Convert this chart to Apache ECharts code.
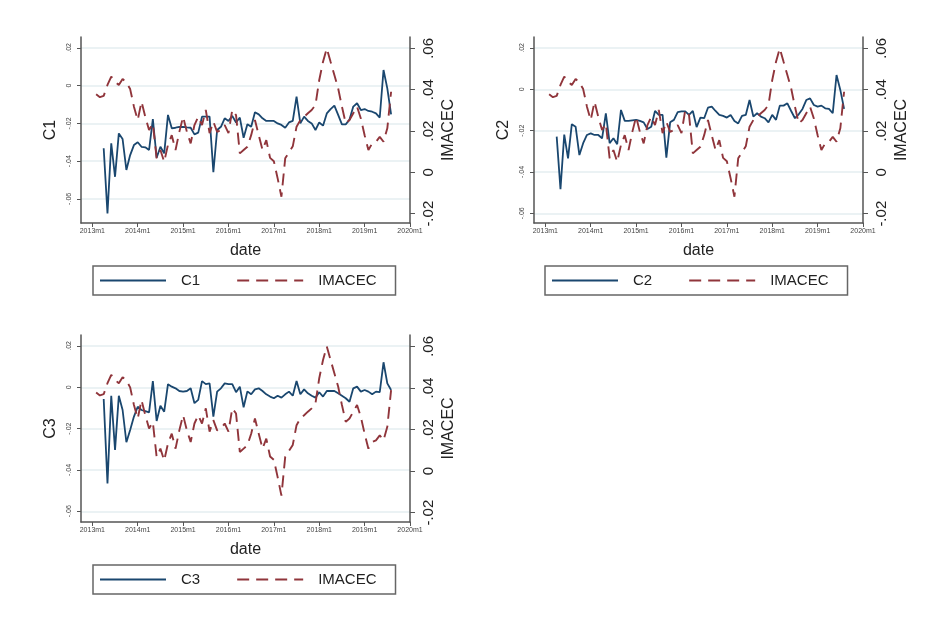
<!DOCTYPE html>
<html style="height: 100%">
<head>
  <meta charset="UTF-8">
  <title>C1, C2, C3 and IMACEC</title>
  <script src="https://cdn.jsdelivr.net/npm/echarts@6/dist/echarts.min.js"></script>
</head>
<body style="height: 100%; margin: 0; background: #fff">
<div id="main" style="width: 932px; height: 626px"></div>

<script>
  // monthly observations, 2013m2 .. 2019m8
  const dates = [
    '2013m2', '2013m3', '2013m4', '2013m5', '2013m6', '2013m7', '2013m8', '2013m9', '2013m10', '2013m11', '2013m12',
    '2014m1', '2014m2', '2014m3', '2014m4', '2014m5', '2014m6', '2014m7', '2014m8', '2014m9', '2014m10', '2014m11', '2014m12',
    '2015m1', '2015m2', '2015m3', '2015m4', '2015m5', '2015m6', '2015m7', '2015m8', '2015m9', '2015m10', '2015m11', '2015m12',
    '2016m1', '2016m2', '2016m3', '2016m4', '2016m5', '2016m6', '2016m7', '2016m8', '2016m9', '2016m10', '2016m11', '2016m12',
    '2017m1', '2017m2', '2017m3', '2017m4', '2017m5', '2017m6', '2017m7', '2017m8', '2017m9', '2017m10', '2017m11', '2017m12',
    '2018m1', '2018m2', '2018m3', '2018m4', '2018m5', '2018m6', '2018m7', '2018m8', '2018m9', '2018m10', '2018m11', '2018m12',
    '2019m1', '2019m2', '2019m3', '2019m4', '2019m5', '2019m6', '2019m7', '2019m8'
  ];

  const imacec = [
    0.0378, 0.0364, 0.0370, 0.0423, 0.0463, 0.0439, 0.0423, 0.0452, 0.0436, 0.0403, 0.0318,
    0.0253, 0.0342, 0.0269, 0.0205, 0.0236, 0.0068, 0.0108, 0.0051, 0.0133, 0.0180, 0.0108, 0.0196,
    0.0269, 0.0196, 0.0140, 0.0229, 0.0269, 0.0229, 0.0302, 0.0190, 0.0245, 0.0196, 0.0205, 0.0229,
    0.0190, 0.0302, 0.0277, 0.0092, 0.0108, 0.0124, 0.0180, 0.0253, 0.0180, 0.0108, 0.0156, 0.0070,
    0.0054, -0.0029, -0.0118, 0.0068, 0.0097, 0.0126, 0.0221, 0.0253, 0.0269, 0.0286, 0.0302, 0.0326,
    0.0447, 0.0535, 0.0600, 0.0535, 0.0471, 0.0407, 0.0318, 0.0237, 0.0253, 0.0286, 0.0318, 0.0261,
    0.0180, 0.0108, 0.0140, 0.0148, 0.0172, 0.0148, 0.0213, 0.0390
  ];

  const c1 = [
    null, null, -0.0332, -0.0677, -0.0306, -0.0483, -0.0253, -0.0283, -0.0447, -0.0368, -0.0315,
    -0.0300, -0.0324, -0.0327, -0.0341, -0.0177, -0.0382, -0.0324, -0.0359, -0.0155, -0.0226, -0.0223, -0.0219,
    -0.0218, -0.0221, -0.0223, -0.0258, -0.0249, -0.0164, -0.0164, -0.0164, -0.0459, -0.0235, -0.0218, -0.0173,
    -0.0187, -0.0160, -0.0195, -0.0169, -0.0276, -0.0205, -0.0218, -0.0141, -0.0152, -0.0173, -0.0187, -0.0187,
    -0.0187, -0.0200, -0.0208, -0.0223, -0.0195, -0.0187, -0.0058, -0.0200, -0.0164, -0.0187, -0.0200, -0.0235,
    -0.0195, -0.0212, -0.0147, -0.0124, -0.0106, -0.0155, -0.0205, -0.0205, -0.0180, -0.0111, -0.0093, -0.0129,
    -0.0124, -0.0134, -0.0138, -0.0147, -0.0169, 0.0083, -0.0014, -0.0152
  ];

  const c2 = [
    null, null, -0.0229, -0.0483, -0.0219, -0.0334, -0.0169, -0.0181, -0.0318, -0.0261, -0.0221,
    -0.0213, -0.0221, -0.0221, -0.0237, -0.0116, -0.0261, -0.0237, -0.0266, -0.0100, -0.0153, -0.0153, -0.0150,
    -0.0148, -0.0153, -0.0160, -0.0192, -0.0181, -0.0105, -0.0124, -0.0124, -0.0331, -0.0160, -0.0148, -0.0110,
    -0.0107, -0.0107, -0.0124, -0.0105, -0.0183, -0.0137, -0.0140, -0.0089, -0.0084, -0.0105, -0.0124, -0.0129,
    -0.0137, -0.0124, -0.0153, -0.0165, -0.0129, -0.0124, -0.0052, -0.0132, -0.0116, -0.0132, -0.0140, -0.0160,
    -0.0124, -0.0148, -0.0079, -0.0079, -0.0068, -0.0105, -0.0140, -0.0121, -0.0095, -0.0052, -0.0044, -0.0076,
    -0.0084, -0.0079, -0.0092, -0.0095, -0.0116, 0.0069, -0.0003, -0.0095
  ];

  const c3 = [
    null, null, -0.0057, -0.0465, -0.0041, -0.0303, -0.0041, -0.0110, -0.0266, -0.0207, -0.0142,
    -0.0094, -0.0110, -0.0115, -0.0121, 0.0030, -0.0163, -0.0089, -0.0118, 0.0015, 0.0003, -0.0005, -0.0018,
    -0.0021, -0.0018, -0.0005, -0.0077, -0.0061, 0.0030, 0.0015, 0.0019, -0.0142, -0.0021, -0.0005, 0.0019,
    0.0015, 0.0015, -0.0024, 0.0003, -0.0097, -0.0020, -0.0034, -0.0010, -0.0005, -0.0018, -0.0034, -0.0045,
    -0.0053, -0.0041, -0.0050, -0.0034, -0.0021, -0.0041, 0.0030, -0.0034, -0.0010, -0.0029, -0.0041, -0.0050,
    -0.0024, -0.0045, -0.0018, -0.0018, -0.0018, -0.0029, -0.0041, -0.0053, -0.0070, -0.0005, 0.0003, -0.0021,
    -0.0013, -0.0021, -0.0034, -0.0021, -0.0024, 0.0121, 0.0019, -0.0013
  ];

  const xTickLabels = ['2013m1', '2014m1', '2015m1', '2016m1', '2017m1', '2018m1', '2019m1', '2020m1'];
  const leftTicks = [-0.06, -0.04, -0.02, 0, 0.02];
  const rightTicks = [-0.02, 0, 0.02, 0.04, 0.06];

  // months since 2013m1
  function monthIndex(d) {
    const [y, m] = d.split('m').map(Number);
    return (y - 2013) * 12 + m - 1;
  }
  const xTickValues = xTickLabels.map(monthIndex);

  // stata style: .02, -.04, 0
  function stataFmt(v) {
    if (Math.abs(v) < 1e-9) return '0';
    return (v < 0 ? '-' : '') + Math.abs(v).toFixed(2).replace(/^0/, '');
  }

  const navy = '#1a476f';
  const maroon = '#90353b';
  const axisColor = '#555';
  const font = 'Arial, "Liberation Sans", sans-serif';

  const panels = [
    { name: 'C1', data: c1, left: 81, top: 37, height: 186, lmin: -0.0728, lmax: 0.0258, legLeft: 93, legTop: 266 },
    { name: 'C2', data: c2, left: 534, top: 37, height: 186, lmin: -0.0647, lmax: 0.0253, legLeft: 545, legTop: 266 },
    { name: 'C3', data: c3, left: 81, top: 335, height: 187, lmin: -0.0652, lmax: 0.0253, legLeft: 93, legTop: 565 }
  ];

  const grid = [], xAxis = [], yAxis = [], series = [], legend = [];

  panels.forEach((p, i) => {
    grid.push({ left: p.left, top: p.top, width: 329, height: p.height, outerBoundsMode: 'none' });

    xAxis.push({
      type: 'value', gridIndex: i, min: -3, max: 84,
      name: 'date', nameLocation: 'middle', nameGap: 20,
      nameTextStyle: { fontSize: 16, color: '#222', fontFamily: font },
      axisLine: { onZero: false, lineStyle: { color: axisColor, width: 1.5 } },
      axisTick: { customValues: xTickValues, length: 4, lineStyle: { color: axisColor } },
      axisLabel: {
        customValues: xTickValues, margin: 5, fontSize: 7, color: '#444', fontFamily: font,
        formatter: v => xTickLabels[xTickValues.indexOf(v)]
      },
      splitLine: { show: false }
    });

    yAxis.push({
      type: 'value', gridIndex: i, position: 'left', min: p.lmin, max: p.lmax,
      name: p.name, nameLocation: 'middle', nameGap: 22, nameRotate: 90,
      nameTextStyle: { fontSize: 16, color: '#222', fontFamily: font },
      axisLine: { show: true, onZero: false, lineStyle: { color: axisColor, width: 1.5 } },
      axisTick: { show: true, customValues: leftTicks, length: 4, lineStyle: { color: axisColor } },
      axisLabel: { customValues: leftTicks, rotate: 90, margin: 8, fontSize: 7, color: '#444', fontFamily: font, formatter: stataFmt },
      splitLine: { show: true, lineStyle: { color: '#e4eef1', width: 1.5 } }
    });

    yAxis.push({
      type: 'value', gridIndex: i, position: 'right', min: -0.0245, max: 0.0655,
      name: 'IMACEC', nameLocation: 'middle', nameGap: 31, nameRotate: 90,
      nameTextStyle: { fontSize: 16, color: '#222', fontFamily: font },
      axisLine: { show: true, onZero: false, lineStyle: { color: axisColor, width: 1.5 } },
      axisTick: { show: true, customValues: rightTicks, length: 5, lineStyle: { color: axisColor } },
      axisLabel: { customValues: rightTicks, rotate: 90, margin: 11, fontSize: 15, color: '#222', fontFamily: font, formatter: stataFmt },
      splitLine: { show: false }
    });

    series.push({
      name: p.name, type: 'line', xAxisIndex: i, yAxisIndex: 2 * i,
      data: dates.map((d, k) => [monthIndex(d), p.data[k]]),
      symbol: 'none', lineStyle: { color: navy, width: 1.8 }, itemStyle: { color: navy }
    });
    series.push({
      name: 'IMACEC', type: 'line', xAxisIndex: i, yAxisIndex: 2 * i + 1,
      data: dates.map((d, k) => [monthIndex(d), imacec[k]]),
      symbol: 'none', lineStyle: { color: maroon, width: 1.9, type: [12, 7] }, itemStyle: { color: maroon }
    });

    legend.push({
      data: [p.name, 'IMACEC'], left: p.legLeft, top: p.legTop,
      orient: 'horizontal', padding: [7, 19, 7, 6], itemGap: 36,
      itemWidth: 66, itemHeight: 14,
      borderColor: '#666', borderWidth: 1.5,
      itemStyle: { color: 'rgba(0,0,0,0)', borderWidth: 0, opacity: 0 },
      textStyle: { fontSize: 15, color: '#222', fontFamily: font, padding: [0, 0, 0, 10] },
      selectedMode: false
    });
  });

  const chart = echarts.init(document.getElementById('main'));
  chart.setOption({
    backgroundColor: '#fff',
    animation: false,
    grid: grid,
    xAxis: xAxis,
    yAxis: yAxis,
    legend: legend,
    series: series
  });
</script>
</body>
</html>
